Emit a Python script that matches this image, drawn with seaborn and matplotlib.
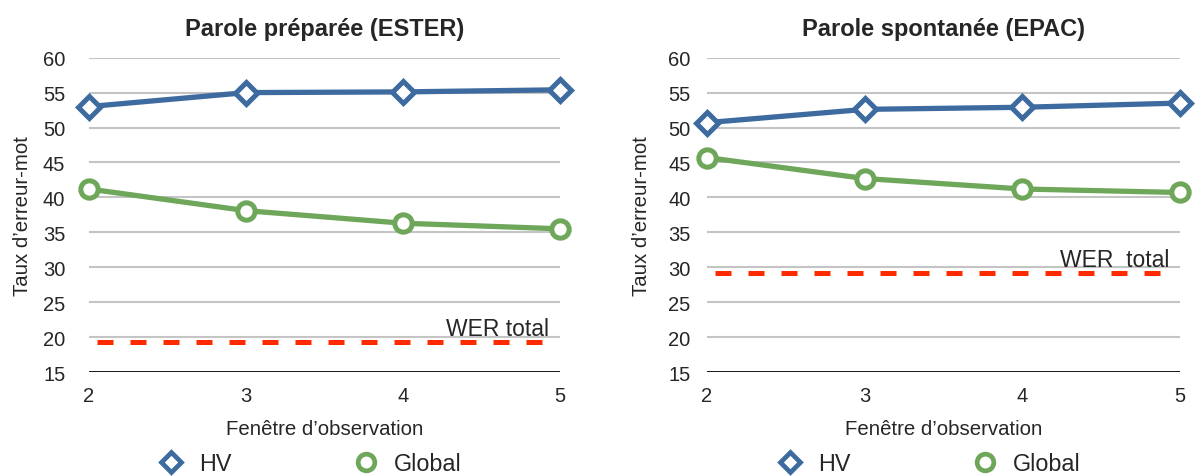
import matplotlib
matplotlib.use("Agg")
import matplotlib.pyplot as plt
from matplotlib.lines import Line2D
import pandas as pd
import seaborn as sns

sns.set_style("white")
plt.rcParams['font.family'] = ['Liberation Sans', 'DejaVu Sans']

# data
fenetre = [2, 3, 4, 5]
ester_hv = [53.0, 55.0, 55.1, 55.4]
ester_global = [41.2, 38.1, 36.3, 35.5]
ester_wer = 19.3
epac_hv = [50.7, 52.6, 52.9, 53.5]
epac_global = [45.7, 42.7, 41.2, 40.7]
epac_wer = 29.2

titles = ["Parole préparée (ESTER)", "Parole spontanée (EPAC)"]
wer_labels = ["WER total", "WER  total"]
yticks = [15, 20, 25, 30, 35, 40, 45, 50, 55, 60]

blue = "#3E6B9F"
green = "#6EA65A"
red = "#FF2A00"

fig = plt.figure(figsize=(11.99, 4.77), dpi=100)
ax1 = fig.add_axes([0.0742, 0.218, 0.393, 0.659])
ax2 = fig.add_axes([0.5897, 0.218, 0.3945, 0.659])

panels = [
    (ax1, ester_hv, ester_global, ester_wer, 17, 8),
    (ax2, epac_hv, epac_global, epac_wer, 12, 12),
]

for i, (ax, hv, glob, wer, ypad, lpad) in enumerate(panels):
    df = pd.DataFrame({"fenetre": fenetre, "HV": hv, "Global": glob})

    for y in yticks[1:]:
        ax.axhline(y, color="#C4C4C4", lw=1.5, zorder=0)
    ax.axhline(15, color="black", lw=2, zorder=1)

    ax.hlines(wer, 2.05, 4.93, color=red, lw=3.6, linestyles=(0, (3.2, 3.4)), zorder=2)
    ax.text(4.93, wer + 1.0, wer_labels[i], ha="right", va="baseline", fontsize=16.5)

    sns.lineplot(data=df, x="fenetre", y="HV", ax=ax, color=blue, lw=3.8,
                 marker="D", markersize=11.5, markerfacecolor="white",
                 markeredgecolor=blue, markeredgewidth=3.6, clip_on=False,
                 zorder=4, legend=False)
    sns.lineplot(data=df, x="fenetre", y="Global", ax=ax, color=green, lw=3.8,
                 marker="o", markersize=12.5, markerfacecolor="white",
                 markeredgecolor=green, markeredgewidth=3.6, clip_on=False,
                 zorder=3, legend=False)

    ax.set_xlim(2, 5)
    ax.set_ylim(15, 60)
    ax.set_xticks(fenetre)
    ax.set_yticks(yticks)
    ax.tick_params(axis="x", length=0, pad=10, labelsize=14.5)
    ax.tick_params(axis="y", length=0, pad=ypad, labelsize=14.5)
    for s in ax.spines.values():
        s.set_visible(False)

    ax.set_title(titles[i], fontsize=17, fontweight="bold", pad=16)
    ax.set_xlabel("Fenêtre d’observation", fontsize=14.7, labelpad=10)
    ax.set_ylabel("Taux d’erreur-mot", fontsize=14.7, labelpad=lpad)

    handles = [
        Line2D([], [], ls="none", marker="D", markersize=10.5, mfc="white",
               mec=blue, mew=3.4),
        Line2D([], [], ls="none", marker="o", markersize=12, mfc="white",
               mec=green, mew=3.4),
    ]
    ax.legend(handles, ["HV", "Global"], loc="center", ncol=2,
              bbox_to_anchor=(0.47, -0.29), frameon=False, fontsize=16.8,
              handlelength=1.0, handletextpad=0.7, columnspacing=5.25)

fig.savefig("out.png", dpi=100)
